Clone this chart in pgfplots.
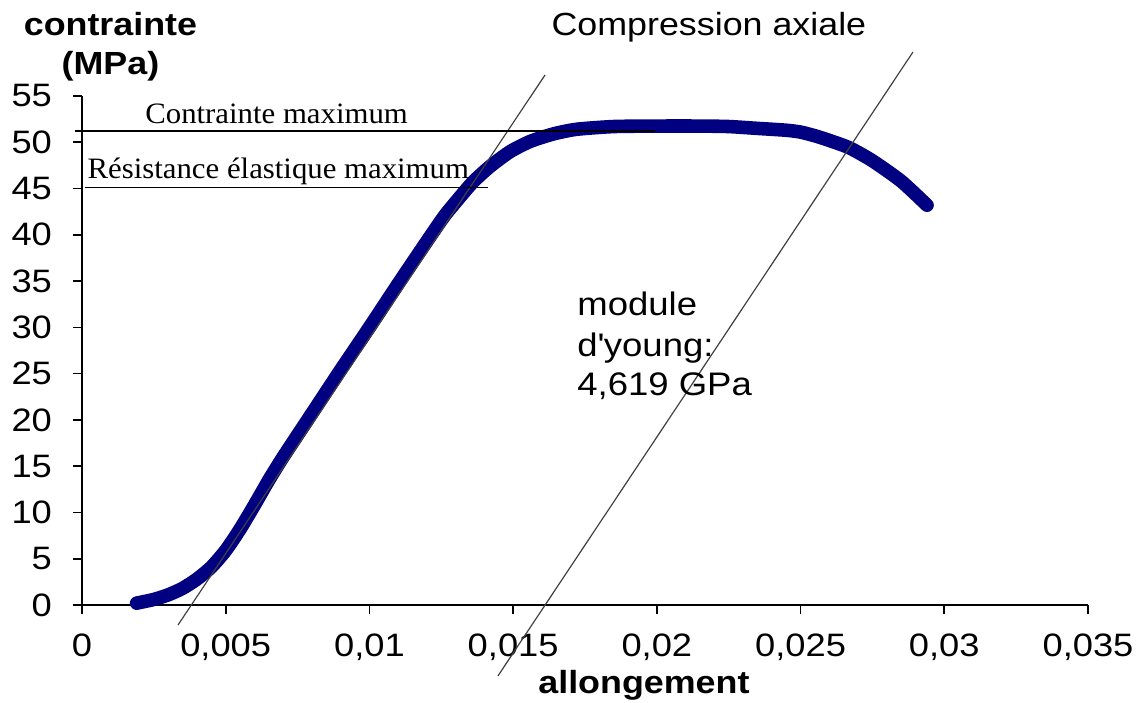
\documentclass[border=0pt]{standalone}
\usepackage{pgfplots}
\pgfplotsset{compat=1.18}
\usepackage{fontspec}
\setmainfont{Liberation Sans}[FakeStretch=1.12]
\newfontfamily\timesf{Liberation Serif}[FakeStretch=1.04]
\definecolor{courbe}{RGB}{0,0,128}

\begin{document}
\begin{tikzpicture}
  \begin{axis}[
      scale only axis,
      width=503pt, height=254.5pt,
      xmin=0, xmax=0.035,
      ymin=0, ymax=55,
      axis x line=bottom,
      axis y line=left,
      axis line style={-, line width=0.8pt},
      tick align=outside,
      major tick length=4.5pt,
      tick style={line width=0.8pt, black},
      xtick={0,0.005,0.01,0.015,0.02,0.025,0.03,0.035},
      xticklabels={0,{0,005},{0,01},{0,015},{0,02},{0,025},{0,03},{0,035}},
      scaled x ticks=false,
      ytick={0,5,10,15,20,25,30,35,40,45,50,55},
      tick label style={font=\fontsize{16.2}{19}\selectfont},
      xticklabel style={yshift=-6.5pt},
      yticklabel style={xshift=-7pt},
      /pgf/number format/assume math mode=true,
      clip=false,
    ]
    \coordinate (o) at (axis cs:0,0);

    % courbe contrainte / allongement
    \addplot[courbe, line width=6.8pt, line join=round, line cap=round, smooth, tension=0.4] coordinates {
      (0.0019,0.2) (0.0025,0.6) (0.0030,1.1) (0.0035,1.8) (0.0040,2.8)
      (0.0045,4.1) (0.0050,5.9) (0.0055,8.2) (0.0060,10.8) (0.0065,13.5)
      (0.0070,16.0)
      (0.0080,20.7) (0.0090,25.4) (0.0100,30.0) (0.0110,34.7) (0.0120,39.3)
      (0.0126,42.0) (0.0131,43.9) (0.0136,45.7) (0.0142,47.4) (0.0149,49.0)
      (0.0156,50.1) (0.0164,50.9) (0.0172,51.4) (0.0185,51.7) (0.0200,51.75)
      (0.0215,51.75) (0.0225,51.7) (0.0235,51.5) (0.0245,51.3) (0.0250,51.1)
      (0.0255,50.7) (0.0260,50.2) (0.0267,49.4) (0.0275,48.0) (0.0285,45.8)
      (0.0294,43.2)
    };

    % droites du module d'Young
    \addplot[black!75, line width=0.6pt] coordinates {(0.00334,-2.16) (0.01611,57.27)};
    \addplot[black!75, line width=0.6pt] coordinates {(0.01447,-7.67) (0.02891,59.75)};

    % niveaux horizontaux
    \addplot[black, line width=0.8pt] coordinates {(-0.00025,51.2) (0.01994,51.2)};
    \addplot[black, line width=0.8pt] coordinates {(0.0001,45.1) (0.01413,45.1)};

    \node[anchor=base, font=\timesf\fontsize{14.8}{17}\selectfont] at (axis cs:0.00677,52.05) {Contrainte maximum};
    \node[anchor=base, font=\timesf\fontsize{14.8}{17}\selectfont] at (axis cs:0.00683,46.1) {Résistance élastique maximum};

    \node[anchor=base, font=\fontsize{16}{19}\selectfont] at (axis cs:0.02181,61.59) {Compression axiale};
    \node[anchor=base, font=\bfseries\fontsize{16}{19}\selectfont] at (axis cs:0.00099,61.59) {contrainte};
    \node[anchor=base, font=\bfseries\fontsize{16}{19}\selectfont] at (axis cs:0.00099,57.27) {(MPa)};
    \node[anchor=base, font=\bfseries\fontsize{16}{19}\selectfont] at (axis cs:0.01955,-9.51) {allongement};

    \node[anchor=base west, inner sep=0pt, font=\fontsize{16.3}{19}\selectfont] at (axis cs:0.01722,31.23) {module};
    \node[anchor=base west, inner sep=0pt, font=\fontsize{16.3}{19}\selectfont] at (axis cs:0.01722,26.9) {d\textquotesingle young:};
    \node[anchor=base west, inner sep=0pt, font=\fontsize{16.3}{19}\selectfont] at (axis cs:0.01722,22.69) {4,619 GPa};
  \end{axis}
  \pgfresetboundingbox
  \path[use as bounding box] ([shift={(-41pt,-48.5pt)}]o) rectangle ++(573pt,351pt);
\end{tikzpicture}
\end{document}
